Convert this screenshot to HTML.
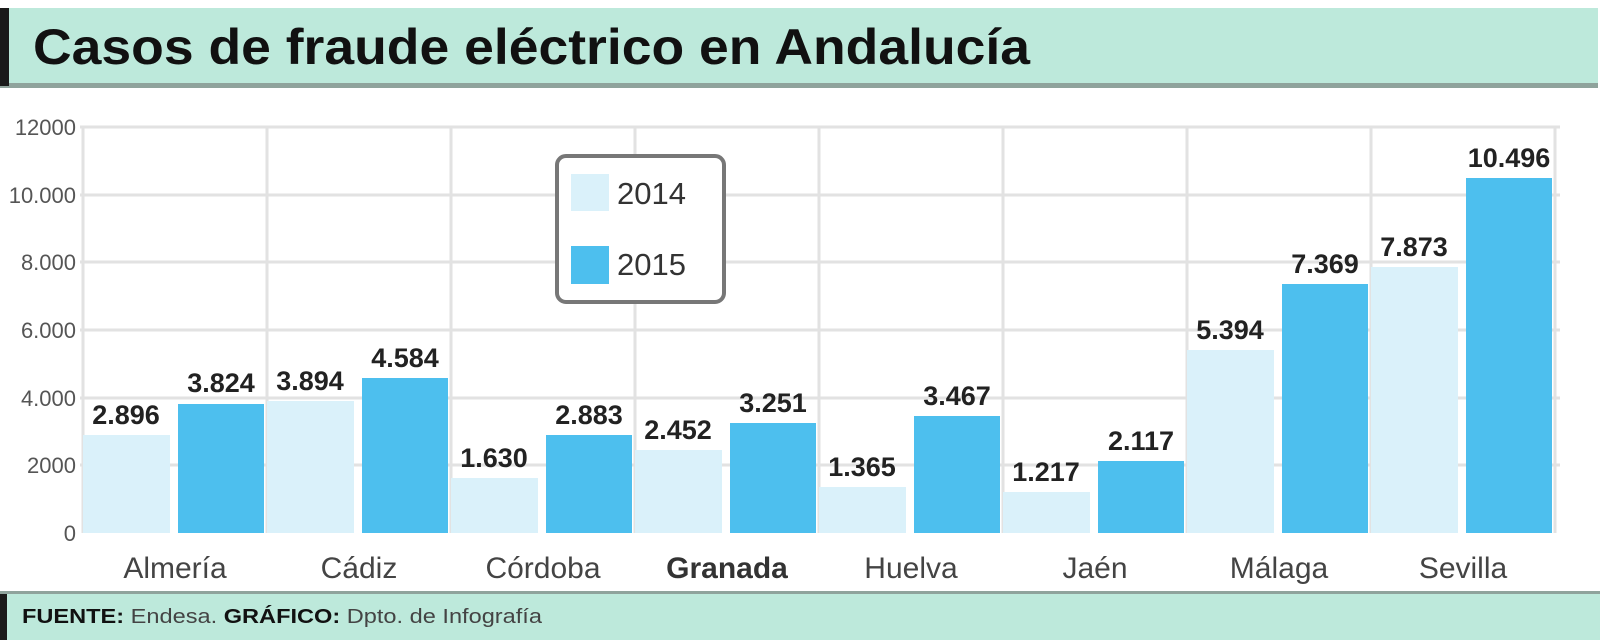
<!DOCTYPE html>
<html><head><meta charset="utf-8"><style>
body{margin:0;background:#fff;}
svg{display:block;font-family:"Liberation Sans",sans-serif;}
</style></head><body>
<svg width="1600" height="640" viewBox="0 0 1600 640" xmlns="http://www.w3.org/2000/svg">
<rect x="0" y="0" width="1600" height="640" fill="#fff"/>
<rect x="0" y="8" width="1598" height="78" fill="#bde9db"/>
<rect x="0" y="83" width="1598" height="5" fill="#8fa39c"/>
<rect x="0" y="8" width="9" height="78" fill="#1a1a1a"/>
<text x="33" y="64" font-size="50" font-weight="bold" fill="#111" textLength="997" lengthAdjust="spacingAndGlyphs">Casos de fraude eléctrico en Andalucía</text>
<g stroke="#e2e2e2" stroke-width="3">
<line x1="80" y1="127" x2="1560" y2="127"/>
<line x1="80" y1="195" x2="1560" y2="195"/>
<line x1="80" y1="262" x2="1560" y2="262"/>
<line x1="80" y1="330" x2="1560" y2="330"/>
<line x1="80" y1="398" x2="1560" y2="398"/>
<line x1="80" y1="465" x2="1560" y2="465"/>
<line x1="83" y1="127" x2="83" y2="533"/>
<line x1="267" y1="127" x2="267" y2="533"/>
<line x1="451" y1="127" x2="451" y2="533"/>
<line x1="635" y1="127" x2="635" y2="533"/>
<line x1="819" y1="127" x2="819" y2="533"/>
<line x1="1003" y1="127" x2="1003" y2="533"/>
<line x1="1187" y1="127" x2="1187" y2="533"/>
<line x1="1371" y1="127" x2="1371" y2="533"/>
<line x1="1555" y1="127" x2="1555" y2="533"/>
</g>
<g font-size="22" fill="#555" text-anchor="end">
<text x="76" y="135">12000</text>
<text x="76" y="203">10.000</text>
<text x="76" y="270">8.000</text>
<text x="76" y="338">6.000</text>
<text x="76" y="406">4.000</text>
<text x="76" y="473">2000</text>
<text x="76" y="541">0</text>
</g>
<g fill="#daf1fa">
<rect x="83" y="435" width="87" height="98"/>
<rect x="267" y="401" width="87" height="132"/>
<rect x="451" y="478" width="87" height="55"/>
<rect x="635" y="450" width="87" height="83"/>
<rect x="819" y="487" width="87" height="46"/>
<rect x="1003" y="492" width="87" height="41"/>
<rect x="1187" y="350" width="87" height="183"/>
<rect x="1371" y="267" width="87" height="266"/>
</g>
<g fill="#4dbfee">
<rect x="178" y="404" width="86" height="129"/>
<rect x="362" y="378" width="86" height="155"/>
<rect x="546" y="435" width="86" height="98"/>
<rect x="730" y="423" width="86" height="110"/>
<rect x="914" y="416" width="86" height="117"/>
<rect x="1098" y="461" width="86" height="72"/>
<rect x="1282" y="284" width="86" height="249"/>
<rect x="1466" y="178" width="86" height="355"/>
</g>
<g font-size="27" font-weight="bold" fill="#222" text-anchor="middle">
<text x="126" y="424">2.896</text>
<text x="221" y="392">3.824</text>
<text x="310" y="390">3.894</text>
<text x="405" y="367">4.584</text>
<text x="494" y="467">1.630</text>
<text x="589" y="424">2.883</text>
<text x="678" y="439">2.452</text>
<text x="773" y="412">3.251</text>
<text x="862" y="476">1.365</text>
<text x="957" y="405">3.467</text>
<text x="1046" y="481">1.217</text>
<text x="1141" y="450">2.117</text>
<text x="1230" y="339">5.394</text>
<text x="1325" y="273">7.369</text>
<text x="1414" y="256">7.873</text>
<text x="1509" y="167">10.496</text>
</g>
<g font-size="30" fill="#444" text-anchor="middle">
<text x="175" y="578">Almería</text>
<text x="359" y="578">Cádiz</text>
<text x="543" y="578">Córdoba</text>
<text x="727" y="578" font-weight="bold" fill="#333">Granada</text>
<text x="911" y="578">Huelva</text>
<text x="1095" y="578">Jaén</text>
<text x="1279" y="578">Málaga</text>
<text x="1463" y="578">Sevilla</text>
</g>
<rect x="557" y="156" width="167" height="146" rx="9" fill="#fff" stroke="#777" stroke-width="4"/>
<rect x="571" y="174" width="38" height="37" fill="#daf1fa"/>
<rect x="571" y="246" width="38" height="38" fill="#4dbfee"/>
<g font-size="31" fill="#333">
<text x="617" y="204">2014</text>
<text x="617" y="275">2015</text>
</g>
<rect x="0" y="591" width="1600" height="3" fill="#8fa39c"/>
<rect x="0" y="594" width="1600" height="46" fill="#bde9db"/>
<rect x="0" y="594" width="7" height="46" fill="#1a1a1a"/>
<text x="22" y="623" font-size="20" fill="#444" textLength="520" lengthAdjust="spacingAndGlyphs"><tspan font-weight="bold" fill="#111">FUENTE:</tspan> Endesa. <tspan font-weight="bold" fill="#111">GRÁFICO:</tspan> Dpto. de Infografía</text>
</svg>
</body></html>
